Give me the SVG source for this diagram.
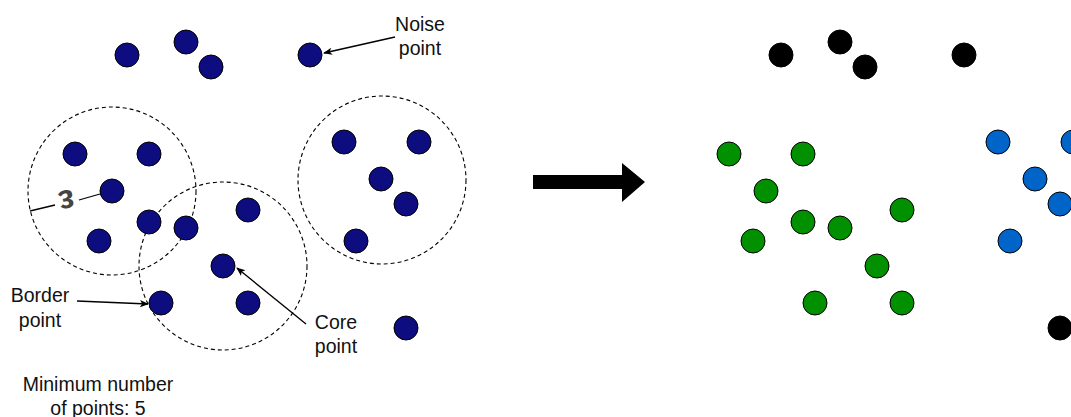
<svg xmlns="http://www.w3.org/2000/svg" width="1071" height="417" viewBox="0 0 1071 417">
  <style>
    .pt { stroke: #000; stroke-width: 1; }
    .raw { fill: #0d0d80; }
    .noise { fill: #000; }
    .green { fill: #009000; }
    .blue { fill: #0064c8; }
    .eps { fill: none; stroke: #000; stroke-width: 1.1; stroke-dasharray: 4 3; }
    .lbl { font-family: "Liberation Sans", Arial, sans-serif; font-size: 19.5px; fill: #111; }
    .conn { fill: none; stroke: #000; stroke-width: 1.3; }
  </style>
  <defs>
    <marker id="ah" viewBox="0 0 10 10" refX="9" refY="5" markerWidth="9" markerHeight="9" orient="auto" markerUnits="userSpaceOnUse">
      <path d="M0,1 L10,5 L0,9 L2.5,5 Z" fill="#000"/>
    </marker>
  </defs>

  <rect width="1071" height="417" fill="#fff"/>

  <!-- epsilon neighbourhoods -->
  <g id="neighbourhoods">
    <circle class="eps" cx="112" cy="191" r="84"/>
    <circle class="eps" cx="223" cy="266" r="84"/>
    <circle class="eps" cx="382" cy="180" r="84"/>
  </g>

  <!-- connectors: radius marker and callout arrows -->
  <g id="connectors">
    <path class="conn" d="M30,211 L55,205 M79,200 L100,194"/>
    <path class="conn" d="M395,37 L324,53" marker-end="url(#ah)"/>
    <path class="conn" d="M306,324 L237,268" marker-end="url(#ah)"/>
    <path class="conn" d="M77,301 L148,304" marker-end="url(#ah)"/>
  </g>

  <!-- raw data set -->
  <g id="n1"><circle class="pt raw" cx="127" cy="55" r="12"/></g>
  <g id="n2"><circle class="pt raw" cx="186" cy="42" r="12"/></g>
  <g id="n3"><circle class="pt raw" cx="211" cy="67" r="12"/></g>
  <g id="n4"><circle class="pt raw" cx="310" cy="55" r="12"/></g>
  <g id="n5"><circle class="pt raw" cx="75" cy="154" r="12"/></g>
  <g id="n6"><circle class="pt raw" cx="149" cy="154" r="12"/></g>
  <g id="n7"><circle class="pt raw" cx="112" cy="191" r="12"/></g>
  <g id="n8"><circle class="pt raw" cx="149" cy="222" r="12"/></g>
  <g id="n9"><circle class="pt raw" cx="99" cy="241" r="12"/></g>
  <g id="n10"><circle class="pt raw" cx="186" cy="228" r="12"/></g>
  <g id="n11"><circle class="pt raw" cx="248" cy="210" r="12"/></g>
  <g id="n12"><circle class="pt raw" cx="223" cy="266" r="12"/></g>
  <g id="n13"><circle class="pt raw" cx="161" cy="303" r="12"/></g>
  <g id="n14"><circle class="pt raw" cx="248" cy="303" r="12"/></g>
  <g id="n15"><circle class="pt raw" cx="344" cy="142" r="12"/></g>
  <g id="n16"><circle class="pt raw" cx="419" cy="142" r="12"/></g>
  <g id="n17"><circle class="pt raw" cx="381" cy="179" r="12"/></g>
  <g id="n18"><circle class="pt raw" cx="406" cy="204" r="12"/></g>
  <g id="n19"><circle class="pt raw" cx="356" cy="241" r="12"/></g>
  <g id="n20"><circle class="pt raw" cx="406" cy="328" r="12"/></g>

  <!-- labels -->
  <g id="label-eps">
    <text x="67" y="202" transform="rotate(168 67 202)" text-anchor="middle" dominant-baseline="central" font-family="'Liberation Sans', Arial, sans-serif" font-size="33" font-weight="bold" fill="#444">ε</text>
  </g>
  <g id="label-noise">
    <text class="lbl" x="420" y="31" text-anchor="middle">Noise</text>
    <text class="lbl" x="420" y="55" text-anchor="middle">point</text>
  </g>
  <g id="label-core">
    <text class="lbl" x="336" y="329" text-anchor="middle">Core</text>
    <text class="lbl" x="336" y="353" text-anchor="middle">point</text>
  </g>
  <g id="label-border">
    <text class="lbl" x="40" y="302" text-anchor="middle">Border</text>
    <text class="lbl" x="40" y="327" text-anchor="middle">point</text>
  </g>
  <g id="label-minpts">
    <text class="lbl" x="98" y="391" text-anchor="middle">Minimum number</text>
    <text class="lbl" x="98" y="415" text-anchor="middle">of points: 5</text>
  </g>

  <!-- transition arrow -->
  <g id="transition">
    <path d="M533,175 L622,175 L622,163 L645,182 L622,202 L622,189 L533,189 Z" fill="#000"/>
  </g>

  <!-- clustered result -->
  <g id="r1"><circle class="pt noise" cx="781" cy="55" r="12"/></g>
  <g id="r2"><circle class="pt noise" cx="840" cy="42" r="12"/></g>
  <g id="r3"><circle class="pt noise" cx="865" cy="67" r="12"/></g>
  <g id="r4"><circle class="pt noise" cx="964" cy="55" r="12"/></g>
  <g id="r5"><circle class="pt green" cx="729" cy="154" r="12"/></g>
  <g id="r6"><circle class="pt green" cx="803" cy="154" r="12"/></g>
  <g id="r7"><circle class="pt green" cx="766" cy="191" r="12"/></g>
  <g id="r8"><circle class="pt green" cx="803" cy="222" r="12"/></g>
  <g id="r9"><circle class="pt green" cx="753" cy="241" r="12"/></g>
  <g id="r10"><circle class="pt green" cx="840" cy="228" r="12"/></g>
  <g id="r11"><circle class="pt green" cx="902" cy="210" r="12"/></g>
  <g id="r12"><circle class="pt green" cx="877" cy="266" r="12"/></g>
  <g id="r13"><circle class="pt green" cx="815" cy="303" r="12"/></g>
  <g id="r14"><circle class="pt green" cx="902" cy="303" r="12"/></g>
  <g id="r15"><circle class="pt blue" cx="998" cy="142" r="12"/></g>
  <g id="r16"><circle class="pt blue" cx="1073" cy="142" r="12"/></g>
  <g id="r17"><circle class="pt blue" cx="1035" cy="179" r="12"/></g>
  <g id="r18"><circle class="pt blue" cx="1060" cy="204" r="12"/></g>
  <g id="r19"><circle class="pt blue" cx="1010" cy="241" r="12"/></g>
  <g id="r20"><circle class="pt noise" cx="1060" cy="328" r="12"/></g>
</svg>
